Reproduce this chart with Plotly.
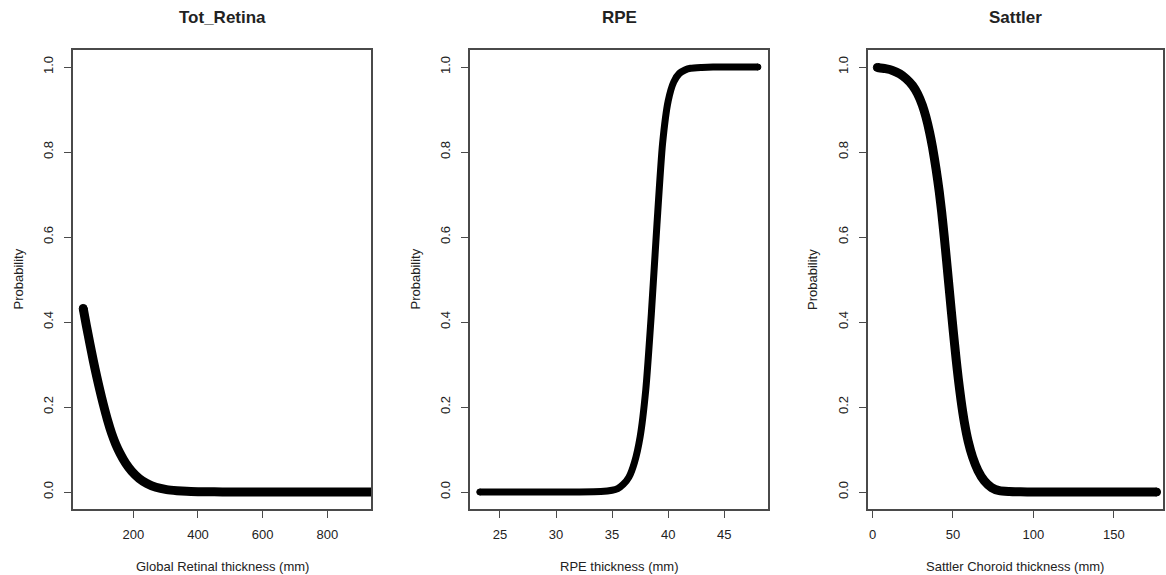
import plotly.graph_objects as go

# ---- data ----
retina_x = [45, 55, 66, 76, 87, 97, 107, 120, 133, 146, 159, 177, 195, 218, 242, 270,
            303, 335, 365, 400, 450, 500, 600, 700, 800, 950]
retina_p = [0.432, 0.391, 0.348, 0.310, 0.271, 0.238, 0.207, 0.170, 0.138, 0.112, 0.091,
            0.067, 0.049, 0.032, 0.020, 0.011, 0.0055, 0.003, 0.0015, 0.0008, 0.0004,
            0.0002, 0, 0, 0, 0]

rpe_x = [23.2, 26, 29, 32, 34, 35, 35.5, 36, 36.5, 37, 37.5, 38, 38.5, 39, 39.5, 40,
         40.5, 41, 41.5, 42, 43, 44, 46, 48]
rpe_p = [0, 0, 0, 0, 0.001, 0.004, 0.008, 0.018, 0.035, 0.07, 0.13, 0.24, 0.42, 0.63,
         0.82, 0.92, 0.965, 0.985, 0.993, 0.997, 0.999, 1, 1, 1]

sattler_x = [3, 8, 12.4, 17, 20.8, 25, 28, 31, 33.2, 35.5, 37.3, 39.5, 41.5, 43, 44.6, 46,
             47.3, 49, 50.2, 52, 53.3, 55, 57, 59.5, 62.2, 65.5, 69.5, 74, 78.8, 85, 92,
             100, 115, 130, 150, 176.5]
sattler_p = [0.999, 0.996, 0.992, 0.984, 0.973, 0.956, 0.937, 0.910, 0.8825, 0.846, 0.811,
             0.760, 0.706, 0.658, 0.600, 0.545, 0.493, 0.425, 0.378, 0.311, 0.267, 0.216,
             0.166, 0.1185, 0.082, 0.0507, 0.026, 0.0103, 0.003, 0.0011, 0.0004, 0.0001,
             0, 0, 0, 0]

titles = ["Tot_Retina", "RPE", "Sattler"]
xlabels = ["Global Retinal thickness (mm)", "RPE thickness (mm)", "Sattler Choroid thickness (mm)"]
xticks = [[200, 400, 600, 800], [25, 30, 35, 40, 45], [0, 50, 100, 150]]
yticks = [0, 0.2, 0.4, 0.6, 0.8, 1.0]
yticklabels = ["0.0", "0.2", "0.4", "0.6", "0.8", "1.0"]

# ---- layout constants ----
W, H = 1166, 575
xranges = [[13.5, 935], [22.33, 48.9], [-3.1, 180.5]]
xdomains_px = [(73, 371), (470, 768), (867.5, 1163)]
ydom = [1 - 509 / H, 1 - 50 / H]
widths = [9, 7, 9]

FONT = "Liberation Sans, Arial, Helvetica, sans-serif"
TXT = "#222222"
LINE = "#4a4a4a"

fig = go.Figure()
series = [(retina_x, retina_p), (rpe_x, rpe_p), (sattler_x, sattler_p)]

for i, (xs, ps) in enumerate(series):
    n = len(xs)
    sizes = [0] * n
    sizes[0] = widths[i] - 1
    sizes[-1] = widths[i] - 1
    fig.add_trace(go.Scatter(
        x=xs, y=ps, mode="lines+markers",
        line=dict(color="black", width=widths[i], shape="spline", smoothing=0.6),
        marker=dict(color="black", size=sizes, opacity=1,
                    line=dict(width=1, color="black")),
        xaxis=f"x{i+1 if i else ''}", yaxis=f"y{i+1 if i else ''}",
        showlegend=False, hoverinfo="skip",
    ))

layout = dict(
    width=W, height=H,
    margin=dict(l=0, r=0, t=0, b=0),
    paper_bgcolor="white", plot_bgcolor="white",
    font=dict(family=FONT, size=13, color=TXT),
    annotations=[],
)

for i in range(3):
    sfx = str(i + 1) if i else ""
    x0, x1 = xdomains_px[i]
    layout[f"xaxis{sfx}"] = dict(
        domain=[x0 / W, x1 / W], range=xranges[i], anchor=f"y{sfx}",
        showgrid=False, zeroline=False, showline=True, mirror=True,
        linecolor=LINE, linewidth=1.5,
        ticks="outside", ticklen=7, tickwidth=1.2, tickcolor=LINE,
        tickvals=xticks[i], ticktext=[str(v) for v in xticks[i]],
        tickfont=dict(family=FONT, size=13, color=TXT),
        ticklabelstandoff=6,
    )
    layout[f"yaxis{sfx}"] = dict(
        domain=ydom, range=[-0.04, 1.04], anchor=f"x{sfx}",
        showgrid=False, zeroline=False, showline=True, mirror=True,
        linecolor=LINE, linewidth=1.5,
        ticks="outside", ticklen=7, tickwidth=1.2, tickcolor=LINE,
        tickvals=yticks, ticktext=yticklabels, tickangle=-90,
        tickfont=dict(family=FONT, size=13, color=TXT),
        ticklabelstandoff=6,
    )
    cx = (x0 + x1) / 2 / W
    layout["annotations"].append(dict(
        text=f"<b>{titles[i]}</b>", x=cx, y=1 - 18 / H, xref="paper", yref="paper",
        xanchor="center", yanchor="middle", showarrow=False,
        font=dict(family=FONT, size=17, color=TXT),
    ))
    layout["annotations"].append(dict(
        text=xlabels[i], x=cx, y=1 - 566 / H, xref="paper", yref="paper",
        xanchor="center", yanchor="middle", showarrow=False,
        font=dict(family=FONT, size=13, color=TXT),
    ))
    layout["annotations"].append(dict(
        text="Probability", x=(x0 - 55) / W, y=(ydom[0] + ydom[1]) / 2,
        xref="paper", yref="paper", textangle=-90,
        xanchor="center", yanchor="middle", showarrow=False,
        font=dict(family=FONT, size=13, color=TXT),
    ))

fig.update_layout(**layout)
fig.write_html("out.html",
               config={"displayModeBar": False},
               post_script="document.body.style.margin='0';document.body.style.overflow='hidden';")
